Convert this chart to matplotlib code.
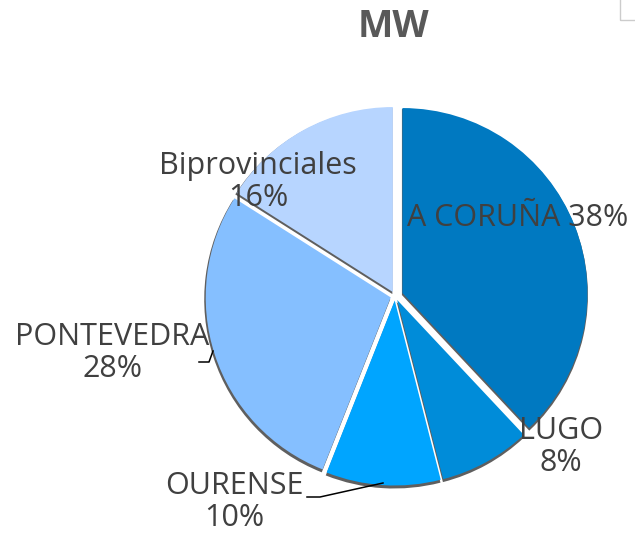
import matplotlib
matplotlib.use("Agg")
import matplotlib.pyplot as plt
import numpy as np
from matplotlib.patches import Rectangle

categories = ["A CORUÑA", "LUGO", "OURENSE", "PONTEVEDRA", "Biprovinciales"]
values = [38, 8, 10, 28, 16]
pct_labels = ["38%", "8%", "10%", "28%", "16%"]
colors = ["#0079C1", "#008CD9", "#00A5FF", "#85BFFF", "#B7D5FF"]
title = "MW"

W, H = 635, 537
fig = plt.figure(figsize=(W / 100, H / 100), dpi=100)
ax = fig.add_axes([0, 0, 1, 1])

cx, cy, R = 395, H - 296, 185
explode = [8, 4.5, 4.5, 4.5, 4.5]  # pixel offsets
plt.rcParams["font.family"] = ["Open Sans", "DejaVu Sans"]
txt_color = "#404040"

# shadow
ax.pie(values, startangle=90, counterclock=False, radius=R + 1,
       center=(cx - 0.5, cy - 2), explode=explode,
       colors=["#5f5f5f"] * len(values), frame=True,
       wedgeprops=dict(linewidth=0))
wedges, _ = ax.pie(values, startangle=90, counterclock=False, radius=R,
                   center=(cx, cy), explode=explode, colors=colors, frame=True,
                   wedgeprops=dict(linewidth=0))
ax.set_xlim(0, W)
ax.set_ylim(0, H)
ax.set_aspect("equal")
ax.axis("off")

lab_pos = {
    0: (518, 218),
    1: (561, 447),
    2: (234, 502),
    3: (112, 353),
    4: (258, 182),
}
fs = 22
for i, (x, y) in lab_pos.items():
    if i == 0:
        s = f"{categories[i]} {pct_labels[i]}"
    else:
        s = f"{categories[i]}\n{pct_labels[i]}"
    ax.text(x, H - y, s, ha="center", va="center", fontsize=fs,
            color=txt_color, linespacing=1.12)

# leader lines
ax.plot([199, 209, 213], [H - 362, H - 362, H - 351], color="black", lw=1.1)
ax.plot([307, 320, 383], [H - 497, H - 497, H - 483], color="black", lw=1.1)

fig.text(393 / W, 1 - 27 / H, title, ha="center", va="center",
         fontsize=27, fontweight="bold", color="#595959")

fig.patches.append(Rectangle((620 / W, 1 - 20 / H), 40 / W, 40 / H,
                             transform=fig.transFigure, fill=False,
                             edgecolor="#cccccc", lw=1))

fig.savefig("out.png", dpi=100, facecolor="white")
